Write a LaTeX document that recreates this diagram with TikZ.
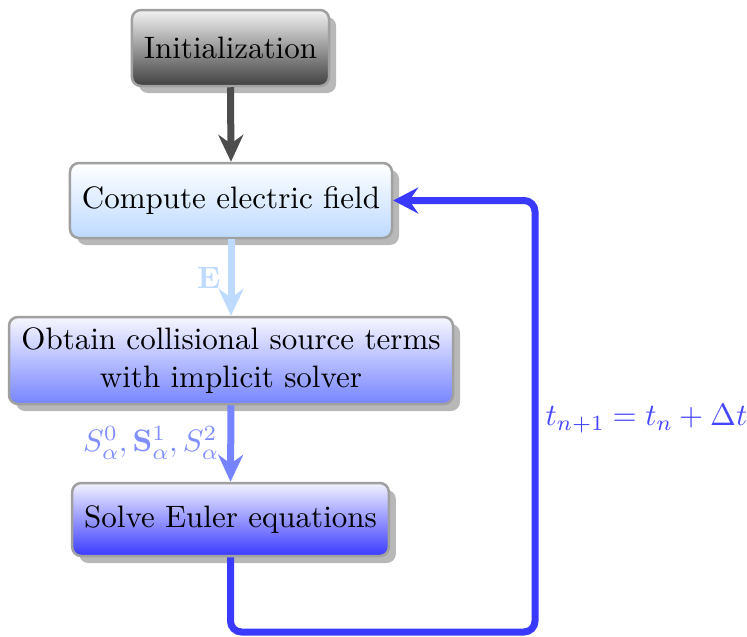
\documentclass[tikz,border=0pt]{standalone}
\usetikzlibrary{shadows,arrows.meta}
\DeclareFontShape{TU}{lmr}{m}{n}{<->"[lmroman10-regular]:+tlig;"}{}
\DeclareFontShape{OML}{cmm}{m}{it}{<-17>cmmi5 <17-28>cmmi7 <28->cmmi10}{}
\DeclareFontShape{OT1}{cmr}{m}{n}{<-17>cmr5 <17-28>cmr7 <28->cmr10}{}
\DeclareFontShape{OT1}{cmr}{bx}{n}{<-17>cmbx5 <17-28>cmbx7 <28->cmbx10}{}
\DeclareFontShape{OMS}{cmsy}{m}{n}{<-17>cmsy5 <17-28>cmsy7 <28->cmsy10}{}
\DeclareFontShape{OMX}{cmex}{m}{n}{<->cmex10}{}
\definecolor{agray}{RGB}{77,77,77}
\definecolor{cone}{RGB}{190,218,255}
\definecolor{ctwo}{RGB}{118,132,255}
\definecolor{clab}{RGB}{128,142,255}
\definecolor{cthree}{RGB}{58,58,255}
\definecolor{tcol}{RGB}{70,70,255}
\definecolor{bordergray}{RGB}{160,160,160}
\begin{document}
\begin{tikzpicture}[x=1pt,y=-1pt,
  font=\fontsize{31}{37.5}\selectfont,
  box/.style={draw=bordergray, line width=2.5pt, rounded corners=9pt,
    drop shadow={shadow xshift=7pt, shadow yshift=-7pt, fill=black!28, opacity=1},
    inner xsep=12pt, align=center},
  conn/.style={line width=7pt, -{Stealth[length=27pt,width=25pt,inset=9pt]}}
]
\useasboundingbox (0,0) rectangle (747,637);
\node[box, top color=black!5, bottom color=black!75, minimum width=195pt, minimum height=76pt] (init) at (230.5,48) {Initialization};
\node[box, top color=white, bottom color=cone, minimum width=322pt, minimum height=75pt] (comp) at (231,200.5) {Compute electric field};
\node[box, top color=blue!3, bottom color=ctwo, minimum width=444pt, minimum height=87pt] (obt) at (231,360.5) {Obtain collisional source terms\\with implicit solver};
\node[box, top color=blue!5, bottom color=cthree, minimum width=315pt, minimum height=73pt] (solve) at (230.5,519.5) {Solve Euler equations};

\draw[conn, agray] (init.south) -- (comp.north);
\draw[conn, cone] (comp.south) -- (obt.north);
\draw[conn, ctwo] (obt.south) -- (solve.north);
\coordinate (lc) at (535,632);
\draw[line width=7pt, cthree, rounded corners=11pt, -{Stealth[length=25pt,width=26pt,inset=9pt]}]
  (solve.south) |- (lc) |- (comp.east);

\node[text=cone, anchor=east] (elab) at (224,278) {$\mathbf{E}$};
\node[text=clab, anchor=east] (slab) at (222,443) {$S^0_\alpha, \mathbf{S}^1_\alpha, S^2_\alpha$};
\node[text=tcol, anchor=west] (tlab) at (542,419) {$t_{n+1} = t_n + \Delta t$};
\end{tikzpicture}
\end{document}
